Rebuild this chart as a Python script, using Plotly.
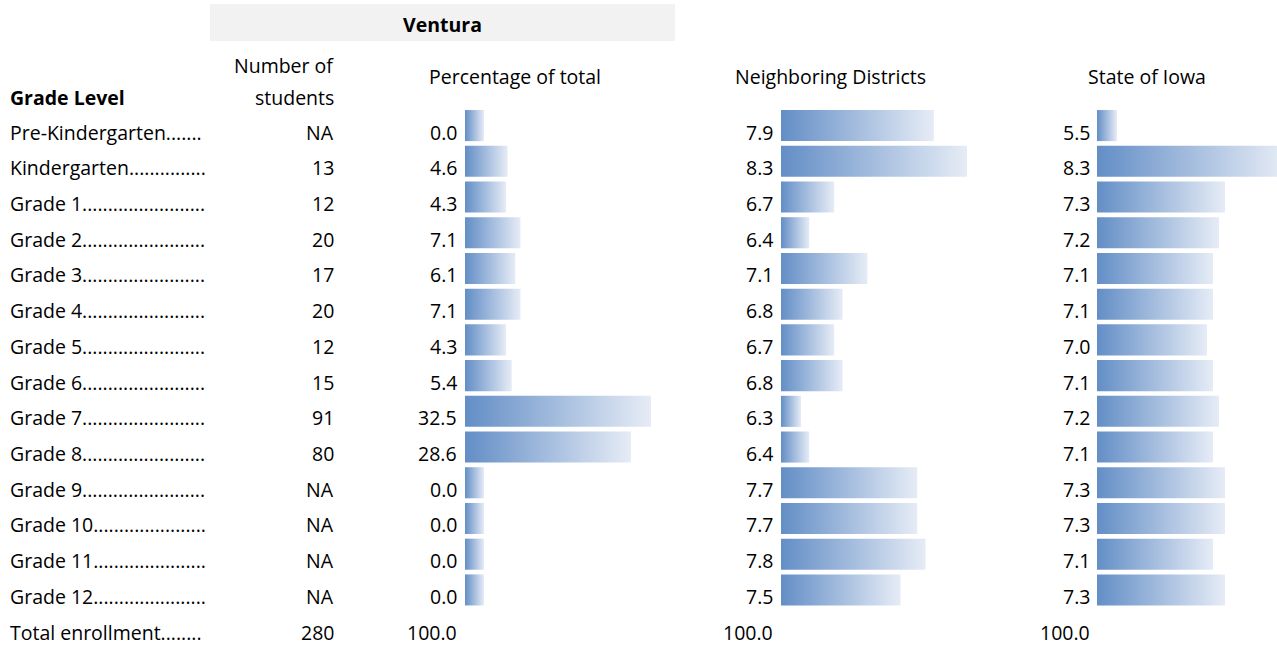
import plotly.graph_objects as go

# ---------------- data ----------------
grades = ["Pre-Kindergarten.......", "Kindergarten...............", "Grade 1........................",
          "Grade 2........................", "Grade 3........................", "Grade 4........................",
          "Grade 5........................", "Grade 6........................", "Grade 7........................",
          "Grade 8........................", "Grade 9........................", "Grade 10......................",
          "Grade 11......................", "Grade 12......................"]
total_label = "Total enrollment........"
students = ["NA", "13", "12", "20", "17", "20", "12", "15", "91", "80", "NA", "NA", "NA", "NA"]
students_total = "280"
pct_total = [0.0, 4.6, 4.3, 7.1, 6.1, 7.1, 4.3, 5.4, 32.5, 28.6, 0.0, 0.0, 0.0, 0.0]
neighboring = [7.9, 8.3, 6.7, 6.4, 7.1, 6.8, 6.7, 6.8, 6.3, 6.4, 7.7, 7.7, 7.8, 7.5]
iowa = [5.5, 8.3, 7.3, 7.2, 7.1, 7.1, 7.0, 7.1, 7.2, 7.1, 7.3, 7.3, 7.1, 7.3]
totals = [100.0, 100.0, 100.0]
headers = ["Percentage of total", "Neighboring Districts", "State of Iowa"]

# ---------------- layout constants ----------------
W, H = 1277, 646
ROW0, PITCH = 132, 35.72
FONT = "Open Sans"
FS = 19.5
BAR_LEFT = "#638ec6"
BAR_RIGHT = "#e6ecf6"


def row_y(p):
    return (p - ROW0) / PITCH


fig = go.Figure()

cols = [
    dict(vals=pct_total, x0=465, x1=700, minlen=19, maxlen=186, txt_right=459, head_c=514.5),
    dict(vals=neighboring, x0=781, x1=1000, minlen=20, maxlen=186, txt_right=775, head_c=830),
    dict(vals=iowa, x0=1097, x1=1277, minlen=20, maxlen=188, txt_right=1092, head_c=1146.5),
]

BAR_OFF = -0.18
BAR_HALF = 0.435

annotations = []
for k, c in enumerate(cols):
    vals = c["vals"]
    vmin, vmax = min(vals), max(vals)
    scale = (c["maxlen"] - c["minlen"]) / (vmax - vmin)
    base = vmin - c["minlen"] / scale
    width_px = c["x1"] - c["x0"]
    axn = "" if k == 0 else str(k + 1)
    fig.update_layout(**{
        f"xaxis{axn}": dict(domain=[c["x0"] / W, c["x1"] / W], range=[base, base + width_px / scale],
                            visible=False, fixedrange=True),
        f"yaxis{axn}": dict(domain=[0, 1], range=[row_y(H), row_y(0)], visible=False, fixedrange=True,
                            **({} if k == 0 else {"matches": "y"})),
    })
    for i, v in enumerate(vals):
        y0 = i + BAR_OFF - BAR_HALF
        y1 = i + BAR_OFF + BAR_HALF
        fig.add_trace(go.Scatter(
            x=[base, v, v, base, base], y=[y0, y0, y1, y1, y0],
            xaxis="x" + axn, yaxis="y" + axn,
            mode="lines", fill="toself",
            line=dict(width=0, color="rgba(0,0,0,0)"),
            fillgradient=dict(type="horizontal", colorscale=[[0, BAR_LEFT], [1, BAR_RIGHT]]),
            hoverinfo="skip", showlegend=False,
        ))
        annotations.append(dict(x=c["txt_right"] / W, y=i, xref="paper", yref="y", text=f"{v:.1f}",
                                xanchor="right", yanchor="middle", showarrow=False))
    annotations.append(dict(x=c["txt_right"] / W, y=len(vals), xref="paper", yref="y",
                            text=f"{totals[k]:.1f}", xanchor="right", yanchor="middle", showarrow=False))
    annotations.append(dict(x=c["head_c"] / W, y=row_y(76), xref="paper", yref="y", text=headers[k],
                            xanchor="center", yanchor="middle", showarrow=False))

for i, g in enumerate(grades):
    annotations.append(dict(x=8 / W, y=i, xref="paper", yref="y", text=g,
                            xanchor="left", yanchor="middle", showarrow=False))
    annotations.append(dict(x=336 / W, y=i, xref="paper", yref="y", text=students[i],
                            xanchor="right", yanchor="middle", showarrow=False))
n = len(grades)
annotations.append(dict(x=8 / W, y=n, xref="paper", yref="y", text=total_label,
                        xanchor="left", yanchor="middle", showarrow=False))
annotations.append(dict(x=336 / W, y=n, xref="paper", yref="y", text=students_total,
                        xanchor="right", yanchor="middle", showarrow=False))

# headers
annotations.append(dict(x=8 / W, y=row_y(97), xref="paper", yref="y", text="<b>Grade Level</b>",
                        xanchor="left", yanchor="middle", showarrow=False))
annotations.append(dict(x=336 / W, y=row_y(65), xref="paper", yref="y", text="Number of",
                        xanchor="right", yanchor="middle", showarrow=False))
annotations.append(dict(x=336 / W, y=row_y(97), xref="paper", yref="y", text="students",
                        xanchor="right", yanchor="middle", showarrow=False))
annotations.append(dict(x=442 / W, y=row_y(24), xref="paper", yref="y", text="<b>Ventura</b>",
                        xanchor="center", yanchor="middle", showarrow=False))

fig.update_layout(
    width=W, height=H,
    margin=dict(l=0, r=0, t=0, b=0),
    paper_bgcolor="white", plot_bgcolor="rgba(0,0,0,0)",
    font=dict(family=FONT, size=FS, color="#000000"),
    showlegend=False,
    annotations=annotations,
    shapes=[dict(type="rect", xref="paper", yref="paper", x0=210 / W, x1=675 / W,
                 y0=1 - 41 / H, y1=1 - 4 / H, fillcolor="#f2f2f2", line=dict(width=0), layer="below")],
)

fig.write_html("out.html", config={"displayModeBar": False},
               post_script="document.body.style.margin='0';document.body.style.overflow='hidden';")
